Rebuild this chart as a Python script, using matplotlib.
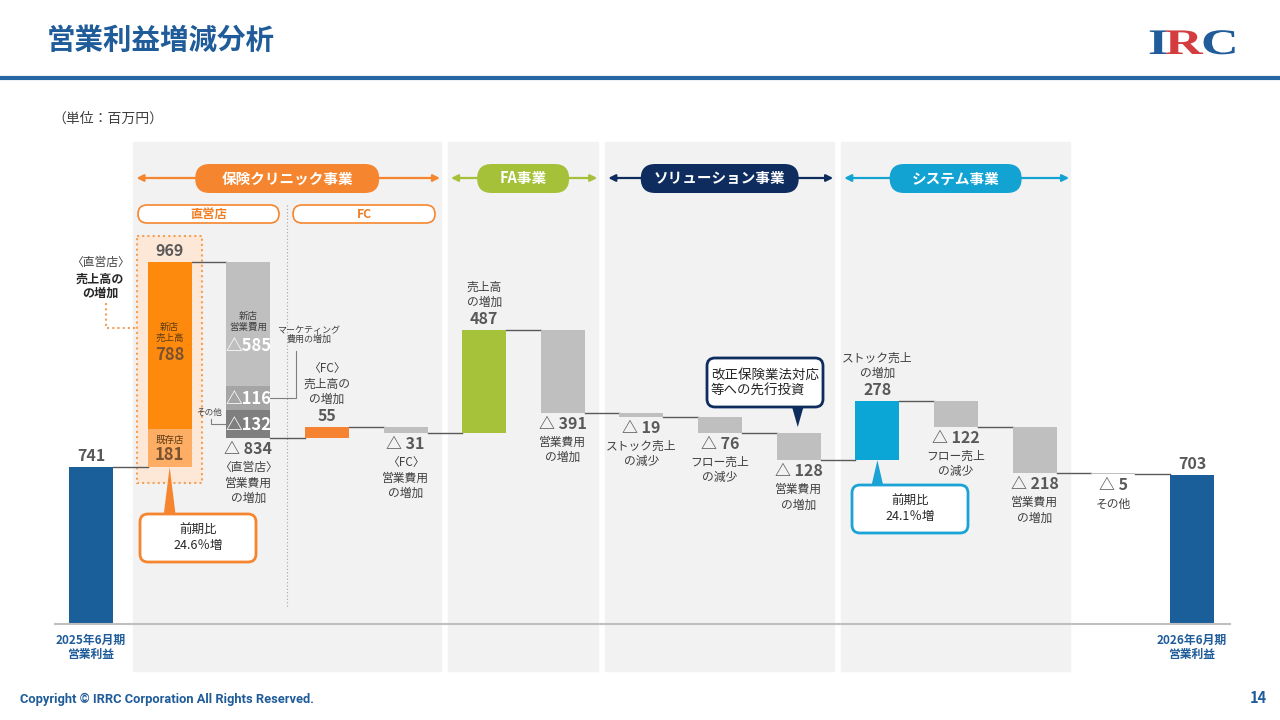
""" Operating profit bridge (waterfall) chart """

import numpy as np
import matplotlib
matplotlib.use('Agg')
import matplotlib.pyplot as plt
from matplotlib.patches import Rectangle, FancyBboxPatch, Polygon, PathPatch
from matplotlib.textpath import TextPath
from matplotlib.font_manager import FontProperties
from matplotlib.transforms import Affine2D

plt.rcParams['font.family'] = ['Noto Sans CJK JP', 'DejaVu Sans']

# ---- data [million yen] ----
start_profit = 741
end_profit = 703
step_values = [969, -834, 55, -31, 487, -391, -19, -76, -128, 278, -122, -218, -5]
step_notes = ['', '〈直営店〉\n営業費用\nの増加', '〈FC〉\n売上高の\nの増加', '〈FC〉\n営業費用\nの増加',
              '売上高\nの増加', '営業費用\nの増加', 'ストック売上\nの減少', 'フロー売上\nの減少',
              '営業費用\nの増加', 'ストック売上\nの増加', 'フロー売上\nの減少', '営業費用\nの増加',
              'その他']
direct_sales = [181, 788]                  # existing stores, new stores
direct_sales_names = ['既存店', '新店\n売上高']
direct_costs = [585, 116, 132]             # new store opex, marketing, other
end_labels = ['2025年6月期\n営業利益', '2026年6月期\n営業利益']
segment_names = ['保険クリニック事業', 'FA事業', 'ソリューション事業', 'システム事業']
segment_bars = [(1, 4), (5, 6), (7, 9), (10, 12)]
growth_notes = ['前期比\n24.6％増', '前期比\n24.1％増']
invest_note = '改正保険業法対応\n等への先行投資'

# ---- colours ----
BLUE = '#1a5e9a'
ORANGE = '#fd8a0c'
ORANGE_LIGHT = '#fdae64'
FC_ORANGE = '#f58332'
GREEN = '#a6c23a'
CYAN = '#0ba5d6'
GRAY = '#bfbfbf'
NAVY = '#0e2c5e'
TITLE_BLUE = '#1f5c99'
TXT = '#404040'
NUM = '#595959'
step_colors = [None, None, FC_ORANGE, GRAY, GREEN, GRAY, GRAY, GRAY, GRAY, CYAN, GRAY, GRAY, GRAY]
cost_colors = ['#bfbfbf', '#a5a5a5', '#7f7f7f']
seg_colors = ['#f5862f', '#a5c13a', NAVY, '#12a3d3']
pill_widths = [184, 92, 158, 132]

# ---- layout (pixels of the 1280x720 canvas) ----
X0, Y0 = 91, 624        # centre of first bar / zero line
PX = 78.64              # pixels per bar slot
PY = 0.2119             # pixels per million yen
BW = 0.56               # bar width in slots
LS = 1.22               # line spacing of the notes


def to_px(i, v):
    return X0 + i * PX, Y0 - v * PY


fig = plt.figure(figsize=(12.8, 7.2), dpi=100)
bg = fig.add_axes([0, 0, 1, 1])
bg.set_xlim(0, 1280)
bg.set_ylim(720, 0)
bg.axis('off')
ax = fig.add_axes([0, 0, 1, 1])
ax.axis('off')

# ---- header ----
bg.text(47, 41, '営業利益増減分析', fontsize=20.5, fontweight='bold', color=TITLE_BLUE, va='center')
bg.plot([0, 1280], [78, 78], color='#2566a3', lw=3)
bg.text(52, 119, '（単位：百万円）', fontsize=10, color=TXT, va='center')

# logo: wide serif letters
logo_font = FontProperties(family='Liberation Serif', weight='bold')
for ch, x_left, col in zip('IRC', [1148, 1165, 1201], [TITLE_BLUE, '#d43d3f', TITLE_BLUE]):
    tp = TextPath((0, 0), ch, size=36, prop=logo_font)
    tr = Affine2D().scale(1.45, -1.0).translate(x_left, 54)
    bg.add_patch(PathPatch(tr.transform_path(tp), fc=col, ec='none'))

bg.text(20, 699, 'Copyright © IRRC Corporation All Rights Reserved.', fontsize=9.3,
        fontweight='bold', color=TITLE_BLUE, va='center', family='Roboto')
bg.text(1258, 698, '14', fontsize=10.5, fontweight='bold', color=TITLE_BLUE, ha='center', va='center')

# ---- segment panels and headers ----
for (a, b), name, col, pw in zip(segment_bars, segment_names, seg_colors, pill_widths):
    left = to_px(a - 0.46, 0)[0]
    right = to_px(b + 0.45, 0)[0]
    mid = (left + right) / 2
    bg.add_patch(Rectangle((left, 142), right - left, 529, color='#f2f2f2', zorder=0))
    bg.annotate('', xy=(right - 1, 178), xytext=(left + 3, 178),
                arrowprops=dict(arrowstyle='<|-|>', color=col, lw=1.6, mutation_scale=10,
                                shrinkA=0, shrinkB=0), zorder=1)
    bg.add_patch(FancyBboxPatch((mid - pw / 2, 164), pw, 29,
                                boxstyle='round,pad=0,rounding_size=14.5',
                                fc=col, ec='none', zorder=2))
    bg.text(mid, 178.5, name, fontsize=10.5, fontweight='bold', color='white',
            ha='center', va='center', zorder=3)

# direct store / FC sub headers
for x, w, name in [(138, 141, '直営店'), (293, 142, 'FC')]:
    bg.add_patch(FancyBboxPatch((x, 205), w, 18, boxstyle='round,pad=0,rounding_size=9',
                                fc='white', ec='#f5862f', lw=1.2, zorder=2))
    bg.text(x + w / 2, 214.5, name, fontsize=8.8, fontweight='bold', color='#f07d22',
            ha='center', va='center', zorder=3)
bg.plot([287, 287], [205, 608], color='#a6a6a6', lw=0.8, ls=(0, (1, 2)), zorder=1)

# ---- waterfall data ----
levels = start_profit + np.cumsum(step_values)
prev = np.concatenate([[start_profit], levels[:-1]])
bottoms = np.minimum(prev, levels)
heights = np.abs(step_values)
positions = np.arange(1, len(step_values) + 1)
last_pos = len(step_values) + 1

# highlight box behind the direct store sales bar
hx, _ = to_px(1, 0)
_, htop = to_px(1, prev[0] + step_values[0])
_, hbot = to_px(1, prev[0])
bg.add_patch(Rectangle((hx - 33, htop - 26), 65, hbot - htop + 42, fc='#fde8d8',
                       ec='#f5a055', lw=1.5, ls=(0, (1, 1.5)), zorder=1))
bg.plot([106, 106, hx - 33], [303, 328, 328], color='#f5a055', lw=1.5, ls=(0, (1, 1.5)), zorder=1)
bg.text(100, 262, '〈直営店〉', fontsize=8.5, color=TXT, ha='center', va='center')
bg.text(100, 286, '売上高の\nの増加', fontsize=8.7, fontweight='bold', color='#262626',
        ha='center', va='center', linespacing=1.1)

# ---- bars ----
ax.bar(0, start_profit, width=BW, color=BLUE, zorder=3)
ax.bar(last_pos, end_profit, width=BW, color=BLUE, zorder=3)

# stacked direct store sales
ax.bar(1, direct_sales[0], bottom=prev[0], width=BW, color=ORANGE_LIGHT, zorder=3)
ax.bar(1, direct_sales[1], bottom=prev[0] + direct_sales[0], width=BW, color=ORANGE, zorder=3)

# stacked direct store costs (going down)
cost_tops = prev[1] - np.concatenate([[0], np.cumsum(direct_costs)[:-1]])
for top, c, col in zip(cost_tops, direct_costs, cost_colors):
    ax.bar(2, c, bottom=top - c, width=BW, color=col, zorder=3)

for pos, b, h, col in zip(positions[2:], bottoms[2:], heights[2:], step_colors[2:]):
    ax.bar(pos, h, bottom=b, width=BW, color=col, zorder=3)

# connectors
conn_levels = np.concatenate([[start_profit], levels])
for k, lv in enumerate(conn_levels):
    ax.plot([k + BW / 2, k + 1 - BW / 2], [lv, lv], color='#595959', lw=1, zorder=2)

# baseline
ax.plot([-0.46, last_pos + 0.48], [0, 0], color='#bfbfbf', lw=1.5, zorder=4)


# ---- labels ----
def top_label(x, y, text):
    ax.annotate(text, xy=(x, y), xytext=(0, 3), textcoords='offset pixels', ha='center',
                va='bottom', fontsize=11.5, fontweight='bold', color=NUM, zorder=5)


top_label(0, start_profit, str(start_profit))
top_label(last_pos, end_profit, str(end_profit))

for pos, v, b, h, note in zip(positions, step_values, bottoms, heights, step_notes):
    if v > 0:
        top_label(pos, b + h, str(v))
        if note:
            ax.annotate(note, xy=(pos, b + h), xytext=(0, 21), textcoords='offset pixels',
                        ha='center', va='bottom', fontsize=8.5, color=TXT, linespacing=LS)
    else:
        ax.annotate('△ ' + str(-v), xy=(pos, b), xytext=(0, -3), textcoords='offset pixels',
                    ha='center', va='top', fontsize=11.5, fontweight='bold', color=NUM)
        if note:
            ax.annotate(note, xy=(pos, b), xytext=(0, -23), textcoords='offset pixels',
                        ha='center', va='top', fontsize=8.5, color=TXT, linespacing=LS)

# inside the direct store sales bar
seg_bottoms = [prev[0], prev[0] + direct_sales[0]]
BROWN = '#7b5230'
for sb, s, name, dy in zip(seg_bottoms, direct_sales, direct_sales_names, [8, 12]):
    mid = sb + s / 2
    ax.annotate(name, xy=(1, mid), xytext=(0, dy), textcoords='offset pixels', ha='center',
                va='center', fontsize=6.8, color='#5c3a14', linespacing=1.2, zorder=5)
    ax.annotate(str(s), xy=(1, mid), xytext=(0, -7 - (dy - 8) * 0.7), textcoords='offset pixels',
                ha='center', va='center', fontsize=12, fontweight='bold', color=BROWN, zorder=5)

# inside the direct store cost bar
for k, (top, c) in enumerate(zip(cost_tops, direct_costs)):
    mid = top - c / 2
    dy = -22 if k == 0 else -1
    ax.annotate('△' + str(c), xy=(2, mid), xytext=(0, dy), textcoords='offset pixels',
                ha='center', va='center', fontsize=12, fontweight='bold', color='white', zorder=5)
ax.annotate('新店\n営業費用', xy=(2, cost_tops[0] - direct_costs[0] / 2), xytext=(0, 2),
            textcoords='offset pixels', ha='center', va='center', fontsize=6.8, color=TXT,
            linespacing=1.2, zorder=5)

# side notes for marketing / other costs
right2 = to_px(2 + BW / 2, 0)[0]
left2 = to_px(2 - BW / 2, 0)[0]
_, y116 = to_px(2, cost_tops[1] - direct_costs[1] / 2)
_, y132 = to_px(2, cost_tops[2] - direct_costs[2] / 2)
bg.plot([right2, 296, 296], [y116, y116, 351], color='#7f7f7f', lw=0.8, zorder=1)
bg.text(309, 335, 'マーケティング\n費用の増加', fontsize=6.5, color=TXT, ha='center', va='center',
        linespacing=1.05)
bg.plot([211, 211, left2], [419, y132, y132], color='#7f7f7f', lw=0.8, zorder=1)
bg.text(209, 412, 'その他', fontsize=6.2, color=TXT, ha='center', va='center')


# ---- callouts ----
def callout(x, y, w, h, edge, tip, base_y, text, ha='center'):
    bg.add_patch(FancyBboxPatch((x, y), w, h, boxstyle='round,pad=0,rounding_size=8',
                                fc='white', ec=edge, lw=2, zorder=6))
    tx, ty = tip
    bg.add_patch(Polygon([(tx - 6, base_y), (tx + 6, base_y), (tx, ty)], closed=True,
                         fc=edge, ec='none', zorder=6))
    if ha == 'center':
        bg.text(x + w / 2, y + h / 2, text, fontsize=9, color='#262626', ha='center',
                va='center', linespacing=1.2, zorder=7)
    else:
        bg.text(x + 4, y + h / 2, text, fontsize=9.7, color='#262626', ha='left',
                va='center', linespacing=1.2, zorder=7)


tip1 = to_px(1, prev[0])
callout(140, 514, 116, 48, '#f5862f', tip1, 515, growth_notes[0])
tip2 = to_px(10, bottoms[9])
callout(852, 485, 116, 48, '#1aa3d4', tip2, 486, growth_notes[1])
tx3, ty3 = to_px(9, bottoms[8] + heights[8])
callout(707, 358, 116, 49, NAVY, (tx3 - 1, ty3 - 6), 406, invest_note, ha='left')

# period labels
for pos, lab in zip([0, last_pos], end_labels):
    ax.annotate(lab, xy=(pos, 0), xytext=(0, -10), textcoords='offset pixels', ha='center',
                va='top', fontsize=8.5, fontweight='bold', color=TITLE_BLUE, linespacing=1.1)

ax.set_xlim(-X0 / PX, (1280 - X0) / PX)
ax.set_ylim(-(720 - Y0) / PY, Y0 / PY)

out_file = 'out.png'
plt.savefig(out_file, dpi=100)
print(f'Resulting image saved to {out_file}')
